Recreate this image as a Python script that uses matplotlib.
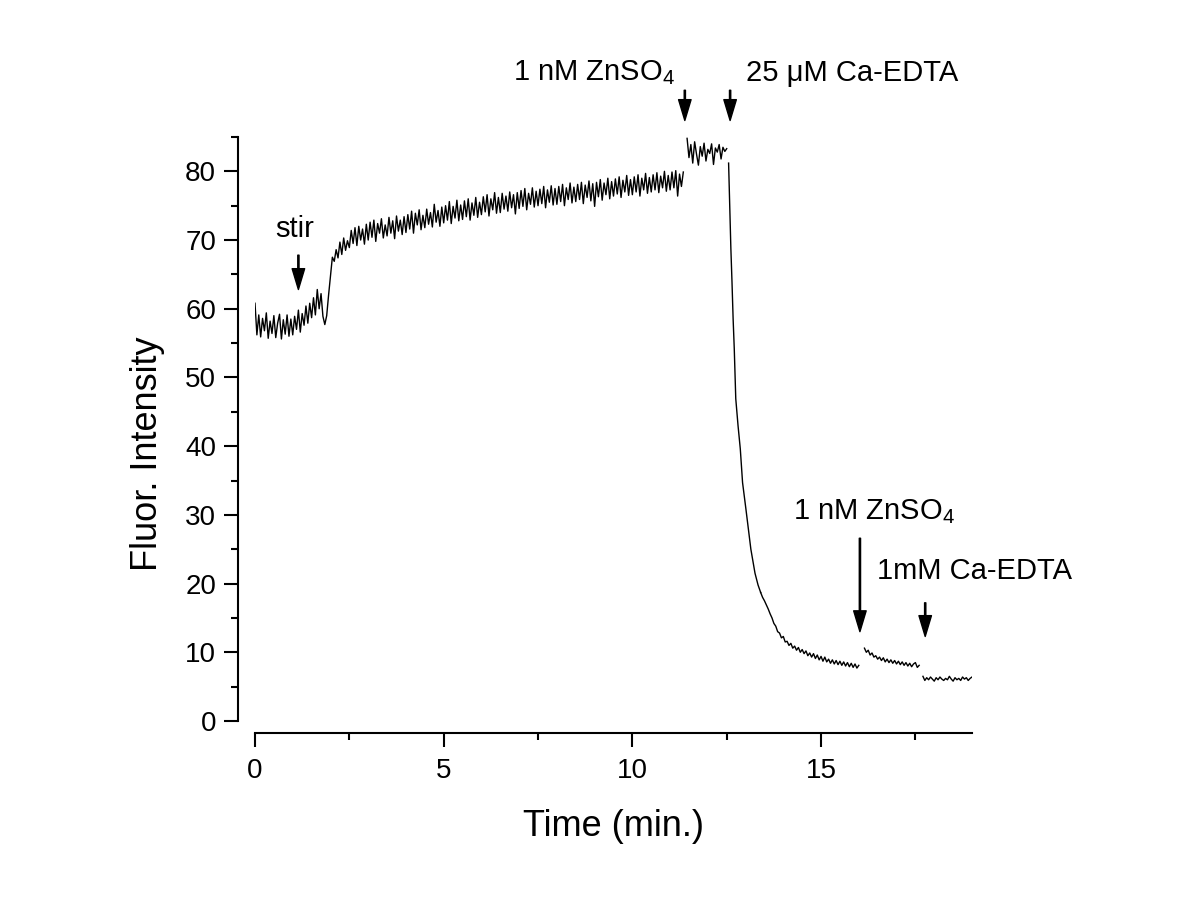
import numpy as np
import matplotlib
matplotlib.use("Agg")
import matplotlib.pyplot as plt

plt.rcParams["font.family"] = ["Liberation Sans", "DejaVu Sans"]
plt.rcParams["mathtext.default"] = "regular"

# trace before zinc addition, sampled every 0.05 min from t = 0
t_start_a = 0.0
vals_a = [
    60.8, 56.2, 59.1, 55.9, 58.6, 56.8, 59.4, 55.7, 58.2, 56.4,
    59.0, 55.8, 57.9, 59.2, 55.6, 58.4, 56.3, 59.1, 56.0, 58.5,
    56.2, 58.9, 57.0, 59.8, 56.6, 59.3, 57.6, 60.4, 57.9, 60.8,
    58.7, 61.6, 59.1, 62.8, 60.0, 62.2, 58.9, 57.7, 59.0, 62.0,
    64.8, 67.5, 66.9, 68.6, 67.4, 69.7, 67.9, 70.3, 68.5, 69.9,
    68.9, 71.4, 69.5, 71.8, 69.2, 72.0, 70.0, 71.6, 69.4, 72.3,
    70.0, 72.6, 70.4, 72.9, 69.8, 72.4, 71.0, 73.1, 70.3, 72.2,
    70.6, 73.3, 71.0, 72.8, 70.2, 73.5, 71.3, 72.9, 70.8, 73.4,
    71.1, 73.7, 71.6, 74.2, 71.0, 73.9, 72.2, 74.4, 71.5, 73.6,
    71.8, 74.5, 72.3, 74.0, 71.9, 75.2, 72.6, 74.3, 72.0, 74.8,
    72.5, 75.0, 72.9, 75.6, 72.4, 74.9, 73.2, 75.8, 72.8, 75.1,
    73.0, 75.7, 73.4, 76.0, 72.9, 75.4, 73.6, 76.2, 73.3, 75.5,
    73.7, 76.3, 74.1, 76.6, 73.5, 76.0, 74.4, 76.9, 73.9, 76.2,
    74.0, 76.8, 74.5, 76.4, 74.2, 77.0, 74.7, 76.6, 73.8, 76.9,
    74.6, 77.2, 74.9, 77.5, 74.4, 76.8, 75.2, 77.6, 74.8, 77.1,
    75.0, 77.4, 75.3, 77.8, 74.7, 77.3, 75.5, 77.9, 75.1, 77.5,
    75.2, 77.8, 75.6, 78.1, 75.0, 77.6, 75.9, 78.3, 75.4, 77.7,
    75.6, 78.1, 75.9, 78.4, 75.3, 78.0, 76.2, 78.6, 75.7, 78.2,
    74.9, 78.4, 76.3, 78.8, 75.8, 78.3, 76.6, 79.0, 76.0, 78.5,
    76.4, 78.9, 76.7, 79.2, 76.2, 78.7, 77.0, 79.4, 76.5, 78.8,
    76.6, 79.2, 77.0, 79.5, 76.4, 79.0, 77.3, 79.7, 76.8, 79.1,
    77.0, 79.5, 77.3, 79.8, 76.9, 79.3, 77.6, 80.0, 77.1, 79.4,
    77.3, 79.9, 77.6, 80.1, 76.4, 79.6, 77.8, 79.9,
]

# after 1 nM ZnSO4
t_start_b = 11.45
vals_b = [
    84.8, 82.0, 83.9, 81.2, 84.3, 82.5, 80.9, 83.6, 82.2, 84.1,
    81.5, 83.2, 82.6, 84.0, 81.0, 83.4, 82.8, 83.9, 81.8, 83.5,
    82.9, 83.3,
]

# fast drop after 25 uM Ca-EDTA
t_drop = [12.55, 12.58, 12.61, 12.64, 12.67, 12.70, 12.74, 12.80, 12.86,
          12.92, 13.01, 13.14, 13.25, 13.33]
vals_drop = [81.2, 75.0, 68.8, 63.9, 58.5, 54.2, 46.9, 43.0, 39.6,
             34.7, 30.8, 25.0, 21.5, 19.8]

t_start_c = 13.40
vals_c = [
    18.7, 18.0, 17.5, 16.9, 16.3, 15.6, 15.0, 14.2, 13.8, 13.0,
    12.8, 12.1, 12.3, 11.5, 11.6, 11.0, 11.3, 10.6, 10.9, 10.3,
    10.7, 10.0, 10.4, 9.8, 10.2, 9.5, 9.9, 9.3, 9.8, 9.1,
    9.6, 8.9, 9.4, 8.7, 9.3, 8.6, 9.0, 8.4, 8.9, 8.3,
    8.8, 8.2, 8.7, 8.1, 8.6, 8.0, 8.5, 7.9, 8.4, 7.8,
    8.3, 7.7, 8.1,
]

# second 1 nM ZnSO4
t_start_d = 16.15
vals_d = [
    10.6, 10.0, 10.3, 9.6, 9.9, 9.3, 9.5, 9.0, 9.3, 8.8,
    9.2, 8.6, 9.0, 8.5, 8.9, 8.4, 8.8, 8.3, 8.7, 8.2,
    8.6, 8.1, 8.5, 8.0, 8.4, 7.9, 8.3, 8.5, 7.8, 8.1,
]

# 1 mM Ca-EDTA
t_start_e = 17.70
vals_e = [
    6.5, 5.9, 6.3, 6.0, 6.4, 6.1, 5.8, 6.3, 6.0, 6.4,
    6.1, 5.9, 6.2, 6.0, 6.5, 6.1, 5.8, 6.3, 6.0, 6.2,
    5.9, 6.4, 6.1, 6.3, 5.9, 6.2, 6.4,
]
step = 0.05

# annotations: label, text position, arrow tail, arrow tip
labels = ["stir", "1 nM ZnSO$_4$", "25 \u03bcM Ca-EDTA", "1 nM ZnSO$_4$", "1mM Ca-EDTA"]
text_xy = [(1.06, 70.5), (6.85, 93.2), (13.0, 93.2), (14.26, 29.4), (16.49, 20.7)]
text_ha = ["center", "left", "left", "left", "left"]
arrow_x = [1.15, 11.39, 12.59, 16.03, 17.76]
arrow_tail = [67.8, 91.8, 91.8, 26.6, 17.2]
arrow_tip = [62.8, 87.4, 87.4, 13.0, 12.3]


def samples(t0, vals):
    return t0 + step * np.arange(len(vals)), np.array(vals)


fig = plt.figure(figsize=(12, 9), dpi=100)
ax = fig.add_axes([0.2125, 0.1989, 0.5975, 0.6489])

for t0, vals in [(t_start_a, vals_a), (t_start_b, vals_b), (t_start_c, vals_c),
                 (t_start_d, vals_d), (t_start_e, vals_e)]:
    t, v = samples(t0, vals)
    ax.plot(t, v, color="black", lw=1.0)
ax.plot(t_drop + [t_start_c], vals_drop + [vals_c[0]], color="black", lw=1.0)

for lab, (tx, ty), ha, ax_x, y0, y1 in zip(labels, text_xy, text_ha, arrow_x, arrow_tail, arrow_tip):
    ax.text(tx, ty, lab, ha=ha, va="baseline", fontsize=21, clip_on=False)
    ax.annotate("", xy=(ax_x, y1), xytext=(ax_x, y0), annotation_clip=False,
                arrowprops=dict(facecolor="black", edgecolor="black", width=0.9,
                                headwidth=9, headlength=15, shrink=0))

ax.set_xlim(0, 19)
ax.set_ylim(0, 85)
ax.set_xticks([0, 5, 10, 15])
ax.set_xticks(np.arange(0, 19, 2.5), minor=True)
ax.set_yticks(np.arange(0, 81, 10))
ax.set_yticks(np.arange(0, 86, 5), minor=True)

for side in ["top", "right"]:
    ax.spines[side].set_visible(False)
ax.spines["left"].set_position(("outward", 12))
ax.spines["bottom"].set_position(("outward", 9))
for side in ["left", "bottom"]:
    ax.spines[side].set_linewidth(1.5)

ax.tick_params(which="major", length=10, width=1.5, labelsize=20)
ax.tick_params(axis="x", which="major", pad=8)
ax.tick_params(axis="y", which="major", pad=6)
ax.tick_params(which="minor", length=5, width=1.5)

ax.set_xlabel("Time (min.)", fontsize=26)
ax.set_ylabel("Fluor. Intensity", fontsize=26)
ax.xaxis.set_label_coords(0.5, -0.15)
ax.yaxis.set_label_coords(-0.125, 0.457)

fig.savefig("out.png", dpi=100)
plt.close(fig)
